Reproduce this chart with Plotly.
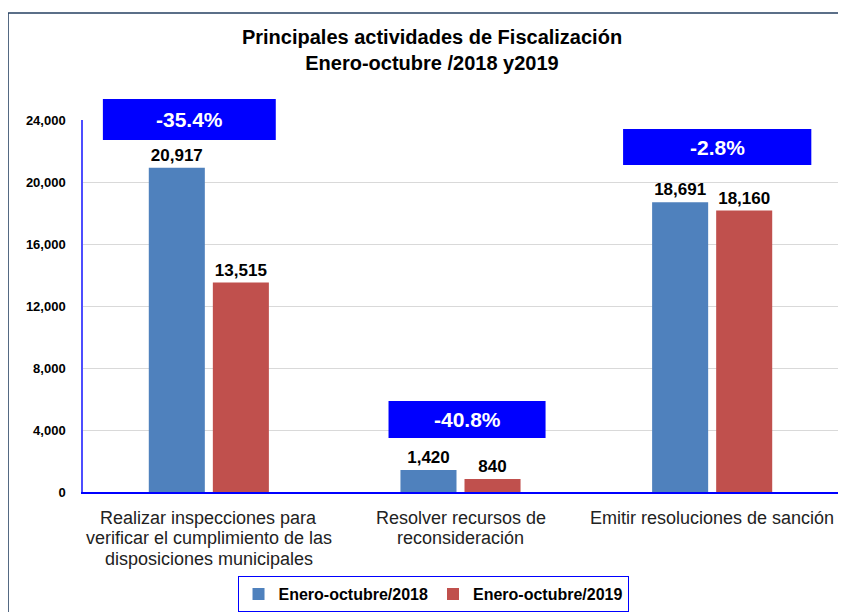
import plotly.graph_objects as go

categories = [
    "Realizar inspecciones para<br>verificar el cumplimiento de las<br>disposiciones municipales",
    "Resolver recursos de<br>reconsideración",
    "Emitir resoluciones de sanción",
]
series_names = ["Enero-octubre/2018", "Enero-octubre/2019"]
values_2018 = [20917, 1420, 18691]
values_2019 = [13515, 840, 18160]
y_ticks = [0, 4000, 8000, 12000, 16000, 20000, 24000]

colors = ["#4F81BD", "#C0504D"]
FONT = "Arial, Liberation Sans, sans-serif"

fig = go.Figure()
for name, vals, col in zip(series_names, [values_2018, values_2019], colors):
    fig.add_trace(go.Bar(
        x=list(range(len(categories))), y=vals, name=name,
        marker=dict(color=col, line=dict(width=0)),
        text=[f"{v:,}" for v in vals], textposition="outside",
        textfont=dict(family=FONT, size=17, color="black", weight="bold"),
        cliponaxis=False,
    ))

# category labels (tight line spacing as in reference)
for i, cat in enumerate(categories):
    for j, line in enumerate(cat.split("<br>")):
        fig.add_annotation(xref="x", yref="paper", x=i, y=0, xanchor="center", yanchor="middle",
                           yshift=-26 - 20.3 * j, text=line, showarrow=False,
                           font=dict(family=FONT, size=18, color="#222222"))

# percentage change boxes
changes = [(b - a) / a * 100 for a, b in zip(values_2018, values_2019)]
box_x = [(-0.421, 0.266), (0.714, 1.338), (1.646, 2.394)]
box_y = [(0.946, 1.0565), (0.145, 0.2446), (0.879, 0.9758)]
for (x0, x1), (y0, y1), ch in zip(box_x, box_y, changes):
    fig.add_shape(type="rect", xref="x", yref="paper", x0=x0, x1=x1, y0=y0, y1=y1,
                  fillcolor="#0000FF", line=dict(width=0), layer="above")
    fig.add_annotation(xref="x", yref="paper", x=(x0 + x1) / 2, y=(y0 + y1) / 2,
                       xanchor="center", yanchor="middle",
                       text=f"{ch:.1f}%", showarrow=False,
                       font=dict(family=FONT, size=21, color="white", weight="bold"))

# outer border (left and top edges only; right/bottom lie off-canvas in reference)
fig.add_shape(type="line", xref="paper", yref="paper", x0=-0.0993, x1=-0.0993, y0=-0.5, y1=1.2876,
              line=dict(color="#243F60", width=1.5))
fig.add_shape(type="line", xref="paper", yref="paper", x0=-0.0993, x1=1.5, y0=1.2876, y1=1.2876,
              line=dict(color="#243F60", width=1.5))

fig.update_layout(
    width=838, height=604,
    margin=dict(l=75, r=8, t=112, b=120, autoexpand=False),
    paper_bgcolor="white", plot_bgcolor="white",
    barmode="group", bargap=0.491, bargroupgap=0.125,
    title=dict(text="Principales actividades de Fiscalización<br>Enero-octubre /2018 y2019",
               x=0.506, xanchor="center", xref="container",
               y=1 - 36 / 604, yanchor="top", yref="container",
               font=dict(family=FONT, size=20, color="black", weight="bold")),
    legend=dict(orientation="h", xref="paper", x=0.4636, xanchor="center",
                y=-0.226, yanchor="top", bordercolor="#0000FF", borderwidth=1,
                font=dict(family=FONT, size=16, color="black", weight="bold"),
                bgcolor="white", itemwidth=30),
    showlegend=True,
)
fig.update_xaxes(
    tickmode="array", tickvals=list(range(len(categories))), showticklabels=False,
    range=[-0.5, 2.5], showline=True, linecolor="#0000FF", linewidth=1.5,
    showgrid=False, ticks="", automargin=False,
)
fig.update_yaxes(
    range=[0, 24000], tickvals=y_ticks, tickformat=",d",
    showline=True, linecolor="#4D4DFF", linewidth=1.5,
    showgrid=True, gridcolor="#D9D9D9", gridwidth=1, zeroline=False,
    ticks="", ticklabelstandoff=13, automargin=False,
    tickfont=dict(family=FONT, size=13, color="black", weight="bold"),
)

fig.write_html("out.html", config={"displayModeBar": False})
